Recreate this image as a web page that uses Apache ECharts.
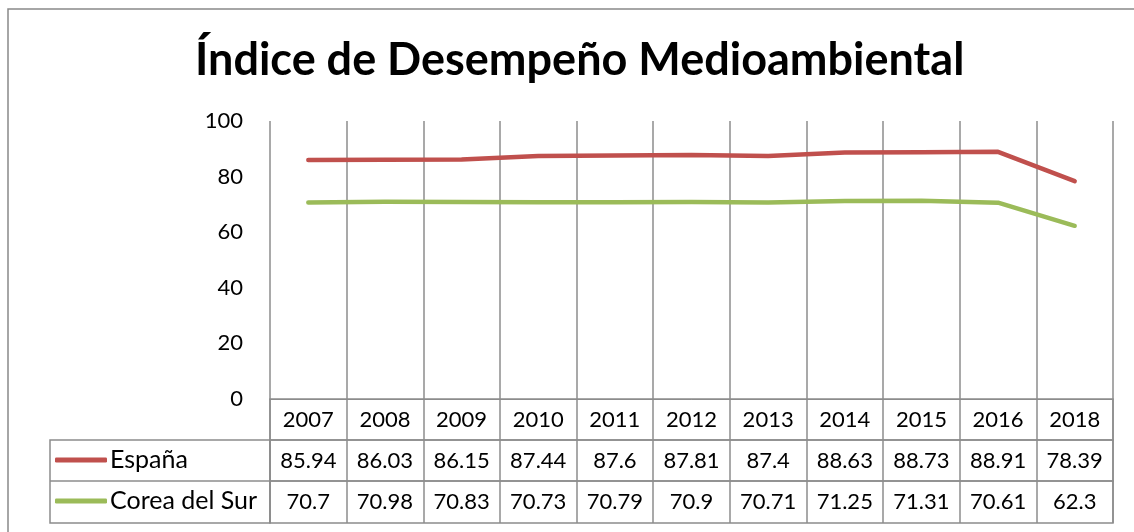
<!DOCTYPE html>
<html>
<head>
<meta charset="utf-8">
<title>Índice de Desempeño Medioambiental</title>
<script src="https://cdn.jsdelivr.net/npm/echarts@6/dist/echarts.min.js"></script>
<style>
  html, body { margin: 0; padding: 0; background: #fff; }
  #main { width: 1134px; height: 532px; }
</style>
</head>
<body>
<div id="main"></div>
<script>
var years = ['2007', '2008', '2009', '2010', '2011', '2012', '2013', '2014', '2015', '2016', '2018'];
var espana = [85.94, 86.03, 86.15, 87.44, 87.6, 87.81, 87.4, 88.63, 88.73, 88.91, 78.39];
var corea = [70.7, 70.98, 70.83, 70.73, 70.79, 70.9, 70.71, 71.25, 71.31, 70.61, 62.3];
var yTicks = [0, 20, 40, 60, 80, 100];

var font = 'Lato, "Liberation Sans", sans-serif';
var gridColor = '#8c8c8c';
var L = 270, R = 21;

// filas de la tabla de datos: [top, height, textos]
var rows = [
  [399, 41, years],
  [440, 41, espana.map(String)],
  [481, 42, corea.map(String)]
];

var grids = [{ left: L, right: R, top: 121, height: 278 }];
var xAxes = [{
  type: 'category', data: years, gridIndex: 0,
  axisLine: { show: true, lineStyle: { color: gridColor, width: 1 } },
  axisTick: { show: false },
  axisLabel: { show: false },
  splitLine: { show: true, interval: 0, lineStyle: { color: gridColor, width: 1.5 } }
}];
var yAxes = [{
  type: 'value', gridIndex: 0, min: yTicks[0], max: yTicks[yTicks.length - 1], interval: 20,
  axisLine: { show: false }, axisTick: { show: false }, splitLine: { show: false },
  axisLabel: { fontFamily: font, fontSize: 22, color: '#000', margin: 27 }
}];

rows.forEach(function (r, i) {
  grids.push({ left: L, right: R, top: r[0], height: r[1], show: true, borderColor: gridColor, borderWidth: 1.5 });
  xAxes.push({
    type: 'category', data: r[2], gridIndex: i + 1, position: 'bottom',
    axisLine: { show: false }, axisTick: { show: false },
    axisLabel: { interval: 0, inside: true, margin: r[1] / 2, verticalAlign: 'middle',
      fontFamily: font, fontSize: 22, color: '#000' },
    splitLine: { show: true, interval: 0, lineStyle: { color: gridColor, width: 1.5 } }
  });
  yAxes.push({ type: 'value', gridIndex: i + 1, show: false });
});

var chart = echarts.init(document.getElementById('main'));
chart.setOption({
  animation: false,
  backgroundColor: '#fff',
  title: {
    text: 'Índice de Desempeño Medioambiental',
    left: 190, top: 33,
    textStyle: { fontFamily: font, fontSize: 45, fontWeight: 'bold', color: '#000' }
  },
  legend: {
    orient: 'vertical', left: 55, top: 447, itemGap: 15, padding: 0,
    icon: 'roundRect', itemWidth: 52, itemHeight: 5,
    textStyle: { fontFamily: font, fontSize: 25, color: '#000', lineHeight: 26, padding: [0, 0, 0, -2] },
    data: ['España', 'Corea del Sur']
  },
  graphic: [
    { type: 'rect', silent: true, shape: { x: 8, y: 9, width: 1140, height: 540 },
      style: { fill: 'none', stroke: '#898989', lineWidth: 1.5 } },
    { type: 'rect', silent: true, shape: { x: 50, y: 440, width: L - 50, height: 83 },
      style: { fill: 'none', stroke: gridColor, lineWidth: 1.5 } },
    { type: 'line', silent: true, shape: { x1: 50, y1: 481, x2: L, y2: 481 },
      style: { stroke: gridColor, lineWidth: 1.5 } }
  ],
  grid: grids,
  xAxis: xAxes,
  yAxis: yAxes,
  series: [
    { name: 'España', type: 'line', data: espana, symbol: 'none', color: '#C0504D',
      lineStyle: { width: 4.5, cap: 'round', join: 'round' } },
    { name: 'Corea del Sur', type: 'line', data: corea, symbol: 'none', color: '#9BBB59',
      lineStyle: { width: 4.5, cap: 'round', join: 'round' } }
  ]
});
</script>
</body>
</html>
